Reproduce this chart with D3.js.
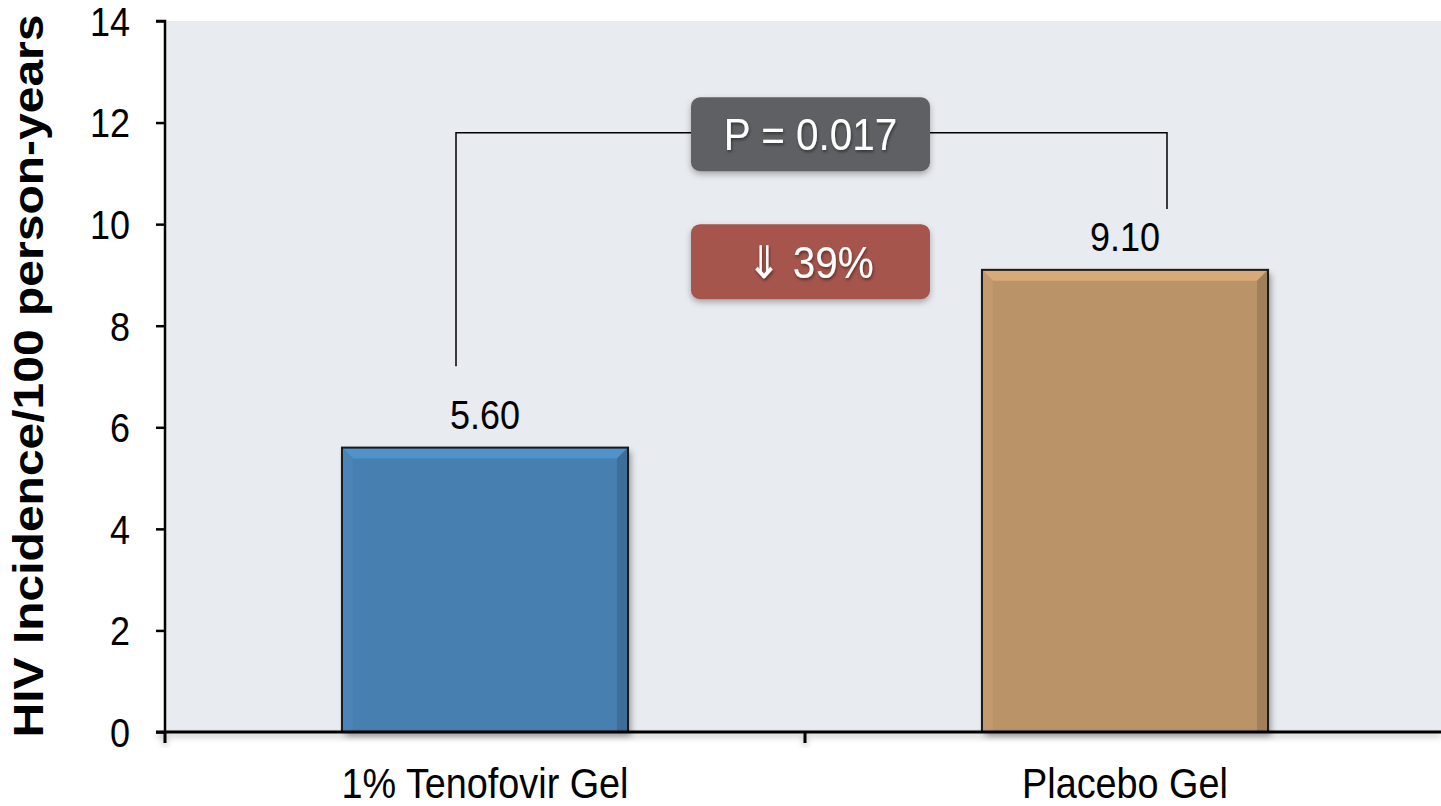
<!DOCTYPE html>
<html><head><meta charset="utf-8">
<script src="https://cdn.jsdelivr.net/npm/d3@7"></script>
<style>body{margin:0;background:#fff}svg{display:block;font-family:"Liberation Sans",Arial,sans-serif}</style>
</head><body>
<svg id="c" width="1441" height="806"></svg>
<script>
const categories = ["1% Tenofovir Gel", "Placebo Gel"];
const values = [5.60, 9.10];
const valueLabels = ["5.60", "9.10"];
const barColors = ["#467fb0", "#bb9369"];
const yTicks = [0, 2, 4, 6, 8, 10, 12, 14];
const yTitle = "HIV Incidence/100 person-years";
const pLabel = "P = 0.017";
const reductionLabel = "\u21d3 39%";

const SQ = 0.9; // horizontal squeeze of the lettering
const svg = d3.select("#c");
const m = {l:165, t:21, r:1445, b:732};
const x = d3.scaleBand().domain(categories).range([m.l, m.r]).paddingInner(0.553).paddingOuter(0.2765);
const y = d3.scaleLinear().domain([0, 14]).range([m.b, m.t]);

const defs = svg.append("defs");
const sh = defs.append("filter").attr("id","sh").attr("x","-10%").attr("y","-10%").attr("width","130%").attr("height","130%");
sh.append("feDropShadow").attr("dx",3).attr("dy",4).attr("stdDeviation",3).attr("flood-color","#000").attr("flood-opacity",0.35);
const sh2 = defs.append("filter").attr("id","sh2").attr("x","-10%").attr("y","-20%").attr("width","130%").attr("height","160%");
sh2.append("feDropShadow").attr("dx",0).attr("dy",3).attr("stdDeviation",3).attr("flood-color","#000").attr("flood-opacity",0.3);
const ts = defs.append("filter").attr("id","ts").attr("x","-10%").attr("y","-20%").attr("width","130%").attr("height","160%");
ts.append("feDropShadow").attr("dx",1).attr("dy",2).attr("stdDeviation",1.5).attr("flood-color","#000").attr("flood-opacity",0.45);

function sqText(parent, tx, ty, size, anchor, txt) {
  return parent.append("text").attr("transform", `translate(${tx},${ty}) scale(${SQ},1)`)
    .attr("text-anchor", anchor).attr("font-size", size).attr("fill", "#000").text(txt);
}

// plot background
svg.append("rect").attr("x", m.l).attr("y", m.t).attr("width", 1441 - m.l).attr("height", m.b - m.t).attr("fill", "#e8ebf0");

// bars
const bev = 11;
const bars = svg.append("g").selectAll("g").data(values).join("g");
bars.each(function(v, i) {
  const g = d3.select(this);
  const bx = x(categories[i]), bw = x.bandwidth(), by = y(v), bh = y(0) - y(v);
  const c = d3.color(barColors[i]);
  g.append("rect").attr("x", bx).attr("y", by).attr("width", bw).attr("height", bh).attr("fill", barColors[i]).attr("filter","url(#sh)");
  g.append("path").attr("d", `M${bx},${by}L${bx+bw},${by}L${bx+bw-bev},${by+bev}L${bx+bev},${by+bev}Z`).attr("fill", c.brighter(0.4));
  g.append("path").attr("d", `M${bx},${by}L${bx+bev},${by+bev}L${bx+bev},${y(0)}L${bx},${y(0)}Z`).attr("fill", c.brighter(0.12));
  g.append("path").attr("d", `M${bx+bw},${by}L${bx+bw},${y(0)}L${bx+bw-bev},${y(0)}L${bx+bw-bev},${by+bev}Z`).attr("fill", c.darker(0.4));
  g.append("rect").attr("x", bx).attr("y", by).attr("width", bw).attr("height", bh).attr("fill", "none").attr("stroke", "#1a1a1a").attr("stroke-width", 2);
  sqText(g, bx + bw/2, by - 19, 40, "middle", valueLabels[i]);
});

// axes
const yAx = svg.append("g").attr("transform", `translate(${m.l},0)`)
  .call(d3.axisLeft(y).tickValues(yTicks).tickSize(9).tickFormat(d3.format("d")));
yAx.select(".domain").attr("stroke","#000").attr("stroke-width",2.5).attr("d", `M-9,${m.t}H0V${m.b}`);
yAx.selectAll(".tick line").attr("stroke","#000").attr("stroke-width",2.5);
yAx.selectAll(".tick text").attr("font-size", 40).attr("fill","#000").attr("font-family","Liberation Sans, Arial, sans-serif")
  .attr("x", -35 / SQ).attr("dy","0.36em").attr("transform", `scale(${SQ},1)`);

const xAx = svg.append("g").attr("transform", `translate(0,${m.b})`).attr("filter","url(#sh2)");
xAx.append("line").attr("x1", m.l - 9).attr("x2", 1441).attr("y1",0).attr("y2",0).attr("stroke","#000").attr("stroke-width",3);
const sep = (x(categories[0]) + x.bandwidth() + x(categories[1])) / 2;
[m.l, sep].forEach(t => xAx.append("line").attr("x1", t).attr("x2", t).attr("y1", 0).attr("y2", 11).attr("stroke","#000").attr("stroke-width",3));
const catG = svg.append("g");
categories.forEach(d => sqText(catG, x(d) + x.bandwidth()/2, 798, 42, "middle", d));

// y title
svg.append("text").attr("transform", `translate(43,${(15+737)/2}) rotate(-90) scale(1,${SQ})`).attr("text-anchor","middle")
  .attr("font-size", 48).attr("font-weight","bold").attr("fill","#000").text(yTitle);

// bracket
const lx = x(categories[0]) + x.bandwidth()/2 - 29;
const rx = x(categories[1]) + x.bandwidth()/2 + 42;
svg.append("path").attr("d", `M${lx},${y(7.2)}V${y(11.8)}H${rx}V${y(10.3)}`).attr("fill","none").attr("stroke","#000").attr("stroke-width",1.5);

// label boxes
const bxL = 691, bw2 = 239;
function box(yv, h, fill, label) {
  const cy = y(yv);
  svg.append("rect").attr("x", bxL).attr("y", cy - h/2).attr("width", bw2).attr("height", h).attr("rx", 9).attr("fill", fill).attr("filter","url(#sh2)");
  svg.append("text").attr("transform", `translate(${bxL + bw2/2},${cy}) scale(${SQ},1)`).attr("dy","0.36em").attr("text-anchor","middle")
    .attr("font-size", 45).attr("fill","#fff").attr("filter","url(#ts)").text(label);
}
box(11.77, 74, "#5f6063", pLabel);
box(9.26, 75, "#a5554c", reductionLabel);
</script>
</body></html>
